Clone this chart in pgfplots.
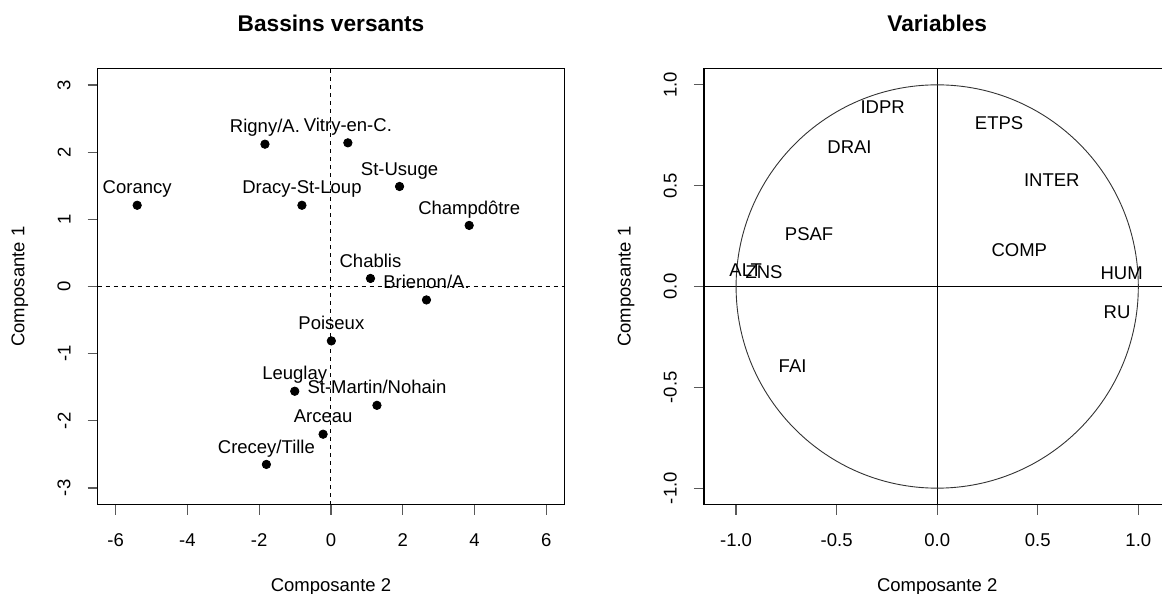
\documentclass[border=0pt]{standalone}
\usepackage{fontspec}
\setmainfont{Liberation Sans}
\usepackage{pgfplots}
\usepackage{pgfplotstable}
\pgfplotsset{compat=1.18}

\newcommand{\rfont}{\fontsize{9.25}{11}\selectfont}
\newcommand{\tfont}{\fontsize{11.35}{13}\selectfont\bfseries}

% individus (bassins versants)
\pgfplotstableread{
label x y
Corancy -5.40 1.21
Rigny/A. -1.84 2.12
Vitry-en-C. 0.47 2.14
Dracy-St-Loup -0.81 1.21
St-Usuge 1.91 1.49
Champdôtre 3.85 0.91
Chablis 1.10 0.12
Brienon/A. 2.66 -0.20
Poiseux 0.01 -0.81
Leuglay -1.01 -1.56
St-Martin/Nohain 1.28 -1.77
Arceau -0.22 -2.20
Crecey/Tille -1.80 -2.65
}\bassins

% cercle des correlations
\pgfplotstableread{
label x y
IDPR -0.271 0.887
ETPS 0.308 0.810
DRAI -0.436 0.691
INTER 0.570 0.529
PSAF -0.637 0.261
COMP 0.408 0.179
ALT -0.952 0.083
ZNS -0.861 0.069
HUM 0.917 0.066
RU 0.894 -0.129
FAI -0.719 -0.397
}\variables

\pgfplotsset{
  rplot/.style={
    scale only axis, width=233.3pt, height=218.2pt,
    anchor=south west,
    axis line style={line width=0.7pt},
    tick align=outside, major tick length=5pt,
    tick style={line width=0.6pt, black!65},
    xtick pos=bottom, ytick pos=left,
    tick label style={font=\rfont, text=black},
    xticklabel style={anchor=north, inner sep=0pt},
    yticklabel style={rotate=90, anchor=south, inner sep=0pt},
    xticklabel shift=9.3pt, yticklabel shift=8.35pt,
    label style={font=\rfont},
    xlabel style={at={(axis description cs:0.5,-0.2)}, anchor=base, inner sep=0pt},
    ylabel style={at={(axis description cs:-0.1569,0.5)}, anchor=base, inner sep=0pt},
    every axis title shift=0pt,
    title style={at={(axis description cs:0.5,1.0839)}, anchor=base, font=\tfont, inner sep=0pt},
    xlabel={Composante 2}, ylabel={Composante 1},
  },
}

\begin{document}
\begin{tikzpicture}
\useasboundingbox (0,0) rectangle (581pt,297pt);
\clip (0,0) rectangle (581pt,297pt);

\begin{axis}[rplot, at={(48.85pt,44.65pt)},
  title={Bassins versants},
  xmin=-6.5, xmax=6.5, ymin=-3.25, ymax=3.25,
  xtick={-6,-4,-2,0,2,4,6}, xticklabels={-6,-4,-2,0,2,4,6},
  ytick={-3,-2,-1,0,1,2,3}, yticklabels={-3,-2,-1,0,1,2,3}]
\draw[dash pattern=on 2pt off 2pt, line width=0.5pt] (axis cs:0,-3.25) -- (axis cs:0,3.25);
\draw[dash pattern=on 2pt off 2pt, line width=0.5pt] (axis cs:-6.5,0) -- (axis cs:6.5,0);
\addplot[only marks, mark=*, mark size=2.1pt, black,
  nodes near coords, point meta=explicit symbolic,
  nodes near coords style={font=\rfont, anchor=base, yshift=5.7pt, inner sep=0pt, text=black}]
  table[x=x, y=y, meta=label] {\bassins};
\end{axis}

\begin{axis}[rplot, at={(351.95pt,44.65pt)},
  title={Variables},
  xmin=-1.16, xmax=1.16, ymin=-1.082, ymax=1.082,
  xtick={-1,-0.5,0,0.5,1}, xticklabels={-1.0,-0.5,0.0,0.5,1.0},
  ytick={-1,-0.5,0,0.5,1}, yticklabels={-1.0,-0.5,0.0,0.5,1.0}]
\draw[line width=0.5pt] (axis cs:0,-1.082) -- (axis cs:0,1.082);
\draw[line width=0.5pt] (axis cs:-1.16,0) -- (axis cs:1.16,0);
\draw[line width=0.45pt, black!80] (axis cs:0,0) ellipse [x radius=1, y radius=1];
\addplot[draw=none, mark=none,
  nodes near coords, point meta=explicit symbolic,
  nodes near coords style={font=\rfont, anchor=center, inner sep=0pt, text=black}]
  table[x=x, y=y, meta=label] {\variables};
\end{axis}
\end{tikzpicture}
\end{document}
